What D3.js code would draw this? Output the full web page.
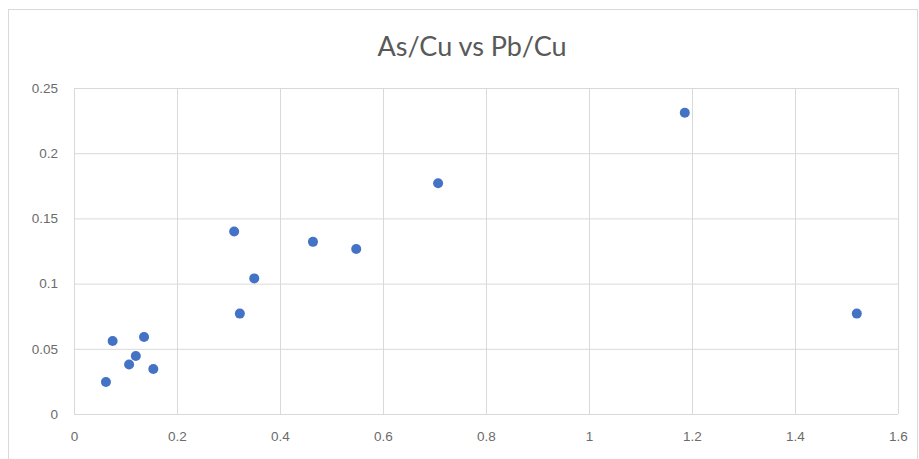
<!DOCTYPE html>
<html>
<head>
<meta charset="utf-8">
<script src="https://cdn.jsdelivr.net/npm/d3@7"></script>
<style>
  html, body { margin: 0; padding: 0; background: #fff; }
  svg { display: block; font-family: Lato, "Open Sans", "Liberation Sans", sans-serif; }
</style>
</head>
<body>
<svg id="chart" width="919" height="459"></svg>
<script>
const chartTitle = "As/Cu vs Pb/Cu";
const pbCu = [1.186, 1.520, 0.707, 0.311, 0.464, 0.548, 0.350, 0.322, 0.075, 0.136, 0.120, 0.107, 0.154, 0.062];
const asCu = [0.231, 0.077, 0.177, 0.140, 0.132, 0.1265, 0.104, 0.077, 0.056, 0.059, 0.0445, 0.038, 0.0345, 0.0245];
const xTicks = [0, 0.2, 0.4, 0.6, 0.8, 1, 1.2, 1.4, 1.6];
const yTicks = [0, 0.05, 0.1, 0.15, 0.2, 0.25];

const points = pbCu.map((x, i) => ({ x, y: asCu[i] }));

const svg = d3.select("#chart");
const W = 919, H = 459;
const plot = { left: 74, right: 898, top: 88, bottom: 414 };

// chart frame
svg.append("rect")
  .attr("x", 8.5).attr("y", 9.5)
  .attr("width", W - 10).attr("height", H - 9)
  .attr("fill", "#fff").attr("stroke", "#d9d9d9").attr("stroke-width", 1);

const x = d3.scaleLinear().domain([0, 1.6]).range([plot.left, plot.right]);
const y = d3.scaleLinear().domain([0, 0.25]).range([plot.bottom, plot.top]);

// gridlines + axes
const xAxisG = svg.append("g")
  .attr("transform", `translate(0,${plot.bottom})`)
  .call(d3.axisBottom(x).tickValues(xTicks).tickSize(-(plot.bottom - plot.top)).tickPadding(17)
    .tickFormat(d => String(+d.toFixed(2))));
xAxisG.select(".domain").remove();
xAxisG.selectAll(".tick line").attr("stroke", "#d9d9d9");
xAxisG.selectAll(".tick text").attr("fill", "#6b6b6b").attr("font-size", "13.5px");

const yAxisG = svg.append("g")
  .attr("transform", `translate(${plot.left},0)`)
  .call(d3.axisLeft(y).tickValues(yTicks).tickSize(-(plot.right - plot.left)).tickPadding(16)
    .tickFormat(d => String(+d.toFixed(2))));
yAxisG.select(".domain").remove();
yAxisG.selectAll(".tick line").attr("stroke", "#d9d9d9");
yAxisG.selectAll(".tick text").attr("fill", "#6b6b6b").attr("font-size", "13.5px");

// title
svg.append("text")
  .attr("x", 472).attr("y", 56)
  .attr("text-anchor", "middle")
  .attr("fill", "#595959")
  .attr("font-size", "27px")
  .text(chartTitle);

// points
svg.append("g").selectAll("circle")
  .data(points)
  .join("circle")
  .attr("cx", d => x(d.x))
  .attr("cy", d => y(d.y))
  .attr("r", 5)
  .attr("fill", "#4472C4");
</script>
</body>
</html>
